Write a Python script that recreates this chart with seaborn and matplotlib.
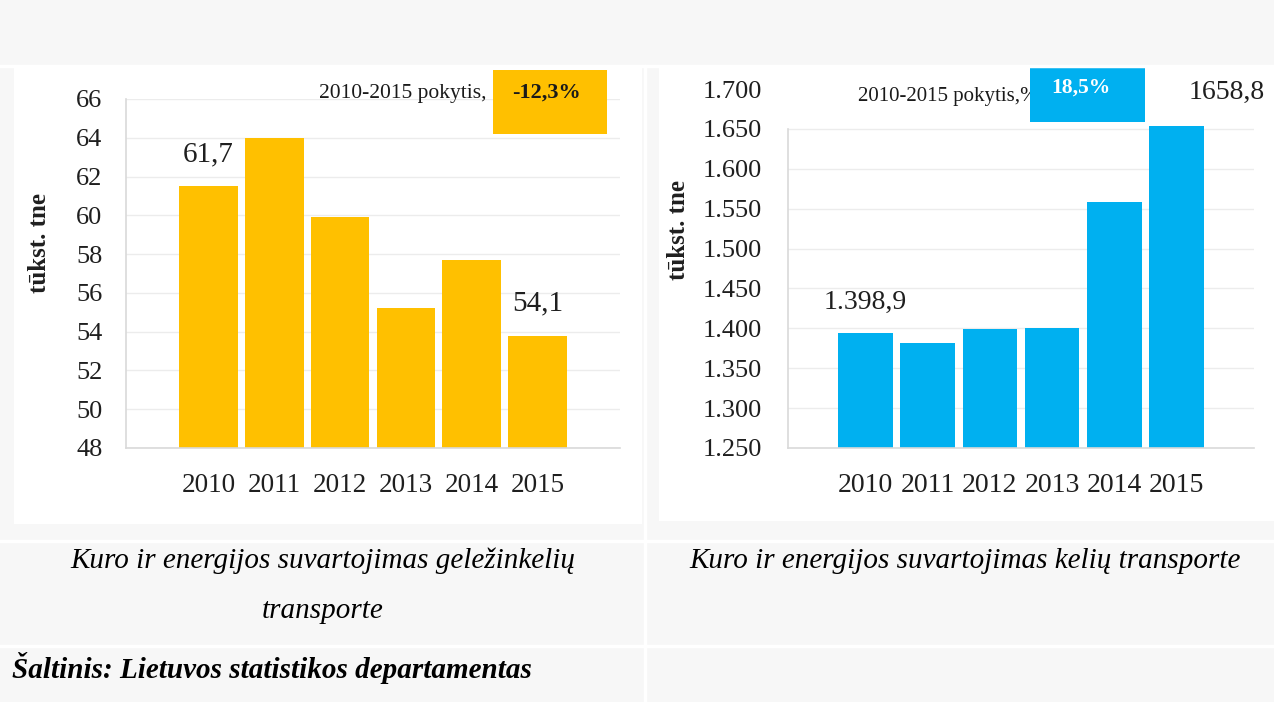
import matplotlib.pyplot as plt
import seaborn as sns
import pandas as pd
from matplotlib.patches import Rectangle
from matplotlib.lines import Line2D
from matplotlib.ticker import FuncFormatter

# duomenys (nuskaityta nuo paveikslo)
years = ['2010', '2011', '2012', '2013', '2014', '2015']
rail = [61.5, 64.0, 59.9, 55.2, 57.7, 53.8]
road = [1393.8, 1382.0, 1398.8, 1401.0, 1558.0, 1653.8]
rail_labels = ['61,7', '', '', '', '', '54,1']
road_labels = ['1.398,9', '', '', '', '', '1658,8']
rail_change = '-12,3%'
road_change = '18,5%'
rail_ticks = list(range(48, 67, 2))
road_ticks = list(range(1250, 1701, 50))

sns.set_theme(style='white')
plt.rcParams['font.family'] = ['Liberation Serif', 'DejaVu Serif']

W, H = 1274, 702
GOLD = '#FFC000'
BLUE = '#00B0F0'
BG = '#f7f7f7'
TXT = '#1f1f1f'


def px(x0, y0, x1, y1):
    return [x0 / W, 1 - y1 / H, (x1 - x0) / W, (y1 - y0) / H]


fig = plt.figure(figsize=(W / 100, H / 100), dpi=100, facecolor=BG)

# baltos paveikslu sritys lenteles langeliuose
for box in [(14, 67, 642, 524), (659, 67, 1274, 521)]:
    x, y, w, h = px(*box)
    fig.add_artist(Rectangle((x, y), w, h, transform=fig.transFigure,
                             facecolor='white', edgecolor='none', zorder=0))

# lenteles linijos
for yy in [66, 541, 646]:
    fig.add_artist(Line2D([0, 1], [1 - yy / H] * 2, transform=fig.transFigure,
                          color='white', lw=2.5, zorder=1))
fig.add_artist(Line2D([645 / W] * 2, [0, 1 - 66 / H], transform=fig.transFigure,
                      color='white', lw=2.5, zorder=1))

tick_fs = 19

# --- gelezinkeliu transportas ---
ax1 = fig.add_axes(px(126, 99, 620, 448))
df1 = pd.DataFrame({'year': years, 'value': rail})
sns.barplot(data=df1, x='year', y='value', color=GOLD, saturation=1,
            width=0.89, linewidth=0, ax=ax1, zorder=2)
ax1.set_xlim(-1.25, 6.25)
ax1.set_ylim(48, 66)
ax1.set_yticks(rail_ticks)
ax1.grid(axis='y', color='#ececec', lw=1)
ax1.set_axisbelow(True)
for s in ['top', 'right']:
    ax1.spines[s].set_visible(False)
for s in ['left', 'bottom']:
    ax1.spines[s].set_color('#d9d9d9')
    ax1.spines[s].set_linewidth(1.2)
ax1.tick_params(axis='y', length=0, pad=17, labelsize=tick_fs, labelcolor=TXT)
ax1.tick_params(axis='x', length=0, pad=18, labelsize=tick_fs + 0.5, labelcolor=TXT)
ax1.set_xlabel('')
ax1.set_ylabel('tūkst. tne', fontsize=18, fontweight='bold', color=TXT)
ax1.yaxis.set_label_coords(-0.152, 0.587)
ax1.set_facecolor('white')
for i, (v, lab) in enumerate(zip(rail, rail_labels)):
    if lab:
        ax1.annotate(lab, (i, v), xytext=(0, 23), textcoords='offset points',
                     ha='center', va='center', fontsize=21, color=TXT)
ax1.add_patch(Rectangle((0.743, 0.90), 0.231, 0.183, transform=ax1.transAxes,
                        facecolor=GOLD, edgecolor='none', clip_on=False, zorder=5))
ax1.text(0.852, 1.017, rail_change, transform=ax1.transAxes, ha='center', va='center',
         fontsize=16, fontweight='bold', color='#1a1a1a', zorder=6)
ax1.text(0.729, 1.017, '2010-2015 pokytis,', transform=ax1.transAxes, ha='right',
         va='center', fontsize=15.5, color='#1a1a1a', zorder=6)

# --- keliu transportas ---
ax2 = fig.add_axes(px(788, 89, 1254, 448))
df2 = pd.DataFrame({'year': years, 'value': road})
sns.barplot(data=df2, x='year', y='value', color=BLUE, saturation=1,
            width=0.88, linewidth=0, ax=ax2, zorder=2)
ax2.set_xlim(-1.25, 6.25)
ax2.set_ylim(1250, 1700)
ax2.set_yticks(road_ticks)
ax2.yaxis.set_major_formatter(FuncFormatter(lambda v, p: f'{v:,.0f}'.replace(',', '.')))
for t in road_ticks[1:-1]:
    ax2.axhline(t, color='#ececec', lw=1, zorder=0)
for s in ['top', 'right']:
    ax2.spines[s].set_visible(False)
for s in ['left', 'bottom']:
    ax2.spines[s].set_color('#d9d9d9')
    ax2.spines[s].set_linewidth(1.2)
ax2.spines['left'].set_bounds(1250, 1650)
ax2.tick_params(axis='y', length=0, pad=19, labelsize=tick_fs, labelcolor=TXT)
ax2.tick_params(axis='x', length=0, pad=18, labelsize=tick_fs + 1, labelcolor=TXT)
ax2.set_xlabel('')
ax2.set_ylabel('tūkst. tne', fontsize=18, fontweight='bold', color=TXT)
ax2.yaxis.set_label_coords(-0.210, 0.607)
ax2.set_facecolor('white')
for i, (v, lab) in enumerate(zip(road, road_labels)):
    if lab:
        off = (0, 22) if i == 0 else (36, 24)
        ax2.annotate(lab, (i, v), xytext=off, textcoords='offset points',
                     ha='center', va='center', fontsize=20, color=TXT)
ax2.text(0.150, 0.978, '2010-2015 pokytis,%', transform=ax2.transAxes, ha='left',
         va='center', fontsize=15, color='#1a1a1a', zorder=4)
ax2.add_patch(Rectangle((0.519, 0.908), 0.247, 0.150, transform=ax2.transAxes,
                        facecolor=BLUE, edgecolor='none', clip_on=False, zorder=5))
ax2.text(0.629, 1.003, road_change, transform=ax2.transAxes, ha='center', va='center',
         fontsize=15.5, fontweight='bold', color='white', zorder=6)

# antrastes
cap = dict(fontsize=21, style='italic', color='black', ha='center', va='center')
fig.text(323 / W, 1 - 561 / H, 'Kuro ir energijos suvartojimas geležinkelių', **cap)
fig.text(323 / W, 1 - 611 / H, 'transporte', **cap)
fig.text(965 / W, 1 - 561 / H, 'Kuro ir energijos suvartojimas kelių transporte', **cap)
fig.text(12 / W, 1 - 668 / H, 'Šaltinis: Lietuvos statistikos departamentas',
         fontsize=21, style='italic', fontweight='bold', color='black',
         ha='left', va='center')

fig.savefig('out.png', dpi=100, facecolor=BG)
